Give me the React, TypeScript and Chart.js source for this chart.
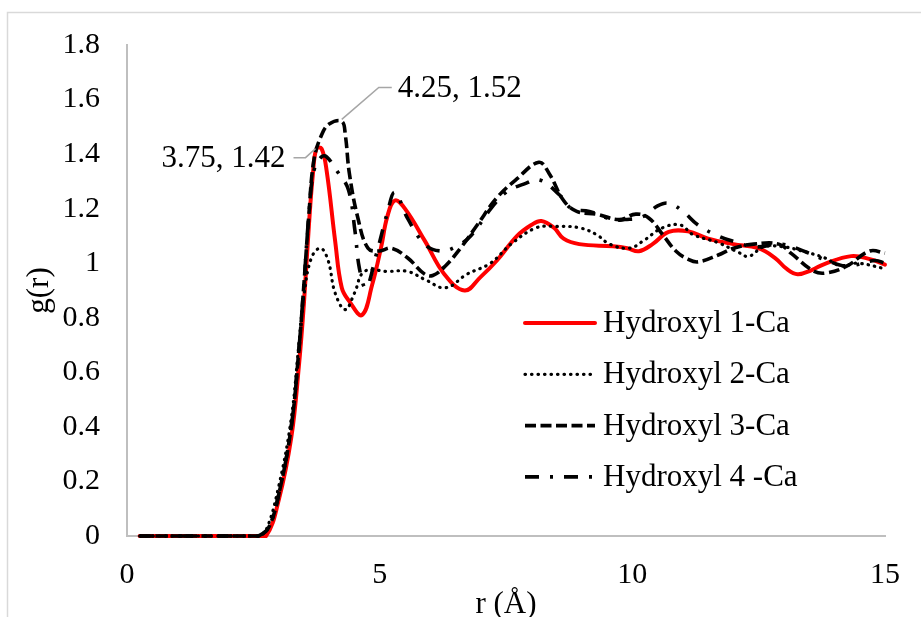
import React, { useEffect, useRef } from "react";
import { Chart, registerables } from "chart.js";

Chart.register(...registerables);

const seriesLabels = ["Hydroxyl 1-Ca", "Hydroxyl 2-Ca", "Hydroxyl 3-Ca", "Hydroxyl 4 -Ca"];

const r1 = [0.25, 0.5, 0.75, 1, 1.25, 1.5, 1.75, 2, 2.25, 2.5, 2.75, 3, 3.25, 3.4, 3.5, 3.6, 3.68, 3.75, 3.85, 3.95, 4.12, 4.25, 4.4, 4.65, 4.85, 5.03, 5.15, 5.3, 5.5, 5.9, 6.28, 6.68, 7, 7.32, 7.72, 8, 8.2, 8.45, 8.64, 8.95, 9.62, 9.9, 10.13, 10.4, 10.72, 11.1, 11.5, 12, 12.49, 12.82, 13.05, 13.27, 13.55, 13.8, 14.33, 14.7, 15];
const g1 = [0, 0, 0, 0, 0, 0, 0, 0, 0, 0, 0, 0.13, 0.36, 0.62, 0.85, 1.14, 1.33, 1.42, 1.42, 1.34, 1.08, 0.91, 0.86, 0.81, 0.92, 1.06, 1.17, 1.23, 1.2, 1.08, 0.96, 0.9, 0.95, 1.01, 1.1, 1.14, 1.155, 1.13, 1.09, 1.07, 1.062, 1.055, 1.044, 1.07, 1.115, 1.117, 1.09, 1.07, 1.055, 1.02, 0.98, 0.96, 0.975, 0.997, 1.026, 1.015, 0.995];

const r2 = [0.25, 0.5, 0.75, 1, 1.25, 1.5, 1.75, 2, 2.25, 2.5, 2.6, 2.75, 3, 3.25, 3.4, 3.5, 3.65, 3.83, 3.98, 4.12, 4.32, 4.5, 4.7, 5.16, 5.55, 5.9, 6.3, 6.73, 7.19, 7.6, 8.1, 8.5, 8.95, 9.29, 9.55, 9.94, 10.2, 10.6, 10.95, 11.2, 11.7, 12.1, 12.3, 12.6, 13, 13.35, 13.8, 14.13, 14.45, 15];
const g2 = [0, 0, 0, 0, 0, 0, 0, 0, 0, 0, 0, 0.02, 0.18, 0.43, 0.7, 0.88, 1.02, 1.055, 1.01, 0.89, 0.83, 0.89, 0.97, 0.97, 0.97, 0.94, 0.91, 0.96, 1.0, 1.07, 1.13, 1.135, 1.13, 1.105, 1.07, 1.055, 1.08, 1.13, 1.14, 1.105, 1.075, 1.04, 1.025, 1.06, 1.06, 1.045, 1.02, 0.99, 1.0, 0.98];

const r3 = [0.25, 0.5, 0.75, 1, 1.25, 1.5, 1.75, 2, 2.25, 2.5, 2.6, 2.8, 3, 3.25, 3.4, 3.5, 3.6, 3.7, 3.85, 4, 4.25, 4.32, 4.4, 4.57, 4.77, 5, 5.23, 5.55, 5.89, 6.05, 6.3, 6.6, 6.93, 7.32, 7.72, 8.15, 8.35, 8.64, 8.9, 9.29, 9.74, 10.07, 10.33, 10.6, 10.86, 11.1, 11.3, 11.7, 12, 12.4, 12.9, 13.15, 13.6, 13.86, 14.25, 14.7, 15];
const g3 = [0, 0, 0, 0, 0, 0, 0, 0, 0, 0, 0, 0.03, 0.15, 0.4, 0.68, 0.92, 1.18, 1.38, 1.47, 1.51, 1.52, 1.47, 1.33, 1.165, 1.055, 1.045, 1.055, 1.02, 0.96, 0.955, 0.99, 1.055, 1.14, 1.24, 1.31, 1.37, 1.33, 1.23, 1.19, 1.18, 1.16, 1.18, 1.165, 1.105, 1.045, 1.015, 1.005, 1.03, 1.055, 1.07, 1.07, 1.035, 0.97, 0.965, 0.99, 1.045, 1.037];

const r4 = [0.25, 0.5, 0.75, 1, 1.25, 1.5, 1.75, 2, 2.25, 2.5, 2.6, 2.8, 3, 3.25, 3.4, 3.5, 3.6, 3.7, 3.85, 3.95, 4.15, 4.38, 4.51, 4.6, 4.73, 4.93, 5.16, 5.3, 5.55, 5.89, 6.2, 6.5, 6.8, 7.2, 7.5, 7.85, 8.17, 8.56, 8.8, 9.15, 9.6, 9.85, 10.2, 10.5, 10.72, 11, 11.3, 11.7, 12, 12.45, 12.95, 13.45, 13.85, 14.25, 14.8, 15];
const g4 = [0, 0, 0, 0, 0, 0, 0, 0, 0, 0, 0, 0.03, 0.15, 0.4, 0.68, 0.92, 1.18, 1.34, 1.39, 1.39, 1.34, 1.27, 1.12, 0.98, 0.91, 1.03, 1.19, 1.26, 1.165, 1.07, 1.045, 1.06, 1.1, 1.2, 1.26, 1.29, 1.305, 1.25, 1.2, 1.19, 1.16, 1.16, 1.17, 1.21, 1.22, 1.19, 1.14, 1.1, 1.08, 1.06, 1.07, 1.04, 1.01, 0.99, 1.01, 1.0];

const xTicks = [0, 5, 10, 15];
const yTicks = [0, 0.2, 0.4, 0.6, 0.8, 1, 1.2, 1.4, 1.6, 1.8];
const yTickLabels = ["0", "0.2", "0.4", "0.6", "0.8", "1", "1.2", "1.4", "1.6", "1.8"];

const annX = [3.75, 4.25];
const annY = [1.42, 1.52];

const FONT = "'Liberation Serif', 'Times New Roman', serif";

function pts(xs: number[], ys: number[]) {
  return xs.map((x, i) => ({ x, y: ys[i] }));
}

const decorPlugin = {
  id: "decor",
  beforeDraw(chart: any) {
    const ctx = chart.ctx;
    ctx.save();
    ctx.fillStyle = "#ffffff";
    ctx.fillRect(0, 0, chart.width, chart.height);
    ctx.strokeStyle = "#d9d9d9";
    ctx.lineWidth = 1.5;
    ctx.strokeRect(7.5, 12.5, chart.width + 20, chart.height + 20);
    ctx.restore();
  },
  afterDatasetsDraw(chart: any) {
    const ctx = chart.ctx;
    const xs = chart.scales.x;
    const ys = chart.scales.y;
    ctx.save();
    ctx.font = `31px ${FONT}`;
    ctx.fillStyle = "#000";
    ctx.textBaseline = "middle";
    ctx.strokeStyle = "#a6a6a6";
    ctx.lineWidth = 1.5;
    ctx.setLineDash([]);
    {
      const px = xs.getPixelForValue(annX[0]);
      const py = ys.getPixelForValue(annY[0]);
      ctx.beginPath();
      ctx.moveTo(px - 1, py);
      ctx.lineTo(px - 11, py + 9);
      ctx.lineTo(px - 23, py + 9);
      ctx.stroke();
      ctx.textAlign = "right";
      ctx.fillText(`${annX[0].toFixed(2)}, ${annY[0].toFixed(2)}`, px - 31, py + 10);
    }
    {
      const px = xs.getPixelForValue(annX[1]);
      const py = ys.getPixelForValue(annY[1]);
      ctx.beginPath();
      ctx.moveTo(px, py - 2);
      ctx.lineTo(px + 37, py - 34);
      ctx.lineTo(px + 50, py - 34);
      ctx.stroke();
      ctx.textAlign = "left";
      ctx.fillText(`${annX[1].toFixed(2)}, ${annY[1].toFixed(2)}`, px + 56, py - 33);
    }
    const rowY0 = 323;
    const rowStep = 51.3;
    chart.data.datasets.forEach((ds: any, i: number) => {
      const y = rowY0 + i * rowStep;
      ctx.beginPath();
      ctx.strokeStyle = ds.borderColor;
      ctx.lineWidth = ds.borderWidth;
      ctx.lineCap = ds.borderCapStyle || "butt";
      ctx.setLineDash(ds.borderDash || []);
      ctx.moveTo(525, y);
      ctx.lineTo(595, y);
      ctx.stroke();
      ctx.setLineDash([]);
      ctx.fillStyle = "#000";
      ctx.textAlign = "left";
      ctx.font = `31px ${FONT}`;
      ctx.fillText(ds.label, 603, y + 1);
    });
    ctx.restore();
  },
};

export default function App() {
  const ref = useRef<HTMLCanvasElement | null>(null);
  useEffect(() => {
    if (!ref.current) return;
    const chart = new Chart(ref.current, {
      type: "line",
      data: {
        datasets: [
          {
            label: seriesLabels[0],
            data: pts(r1, g1),
            borderColor: "#ff0000",
            borderWidth: 4,
            borderCapStyle: "round",
            order: 4,
          },
          {
            label: seriesLabels[1],
            data: pts(r2, g2),
            borderColor: "#000000",
            borderWidth: 3.2,
            borderDash: [0.5, 6],
            borderCapStyle: "round",
            order: 3,
          },
          {
            label: seriesLabels[2],
            data: pts(r3, g3),
            borderColor: "#000000",
            borderWidth: 3.6,
            borderDash: [11, 4.5],
            borderCapStyle: "butt",
            order: 2,
          },
          {
            label: seriesLabels[3],
            data: pts(r4, g4),
            borderColor: "#000000",
            borderWidth: 3.6,
            borderDash: [14, 11, 3, 11],
            borderCapStyle: "butt",
            order: 1,
          },
        ] as any,
      },
      options: {
        animation: false,
        responsive: false,
        devicePixelRatio: 1,
        elements: {
          point: { radius: 0, hoverRadius: 0 },
          line: { tension: 0.4, fill: false },
        },
        datasets: { line: { clip: false } as any },
        layout: { padding: { left: 0, right: 30, top: 43, bottom: 0 } },
        plugins: {
          legend: { display: false },
          tooltip: { enabled: false },
        },
        scales: {
          x: {
            type: "linear",
            min: 0,
            max: 15,
            afterFit: (s: any) => {
              s.height = 104;
            },
            afterBuildTicks: (s: any) => {
              s.ticks = xTicks.map((v) => ({ value: v }));
            },
            grid: { display: false, drawTicks: false },
            border: { display: true, color: "#bfbfbf", width: 2 },
            ticks: {
              color: "#000",
              padding: 21,
              font: { family: FONT, size: 30 },
              maxRotation: 0,
              callback: (v: any) => String(v),
            },
            title: {
              display: true,
              text: "r (Å)",
              color: "#000",
              font: { family: FONT, size: 31 },
              padding: { top: 0, bottom: 17 },
            },
          },
          y: {
            type: "linear",
            min: 0,
            max: 1.8,
            afterFit: (s: any) => {
              s.width = 127;
            },
            afterBuildTicks: (s: any) => {
              s.ticks = yTicks.map((v) => ({ value: v }));
            },
            grid: { display: false, drawTicks: false },
            border: { display: true, color: "#bfbfbf", width: 2 },
            ticks: {
              color: "#000",
              padding: 27,
              font: { family: FONT, size: 30 },
              callback: (v: any) => {
                const idx = yTicks.findIndex((t) => Math.abs(t - v) < 1e-6);
                return idx >= 0 ? yTickLabels[idx] : "";
              },
            },
            title: {
              display: true,
              text: "g(r)",
              color: "#000",
              font: { family: FONT, size: 31 },
              padding: { top: 21, bottom: 0 },
            },
          },
        },
      },
      plugins: [decorPlugin],
    });
    return () => chart.destroy();
  }, []);
  return (
    <div style={{ position: "fixed", left: 0, top: 0, width: 921, height: 617, overflow: "hidden", background: "#fff" }}>
      <canvas ref={ref} width={921} height={640} style={{ display: "block", width: 921, height: 640 }} />
    </div>
  );
}
